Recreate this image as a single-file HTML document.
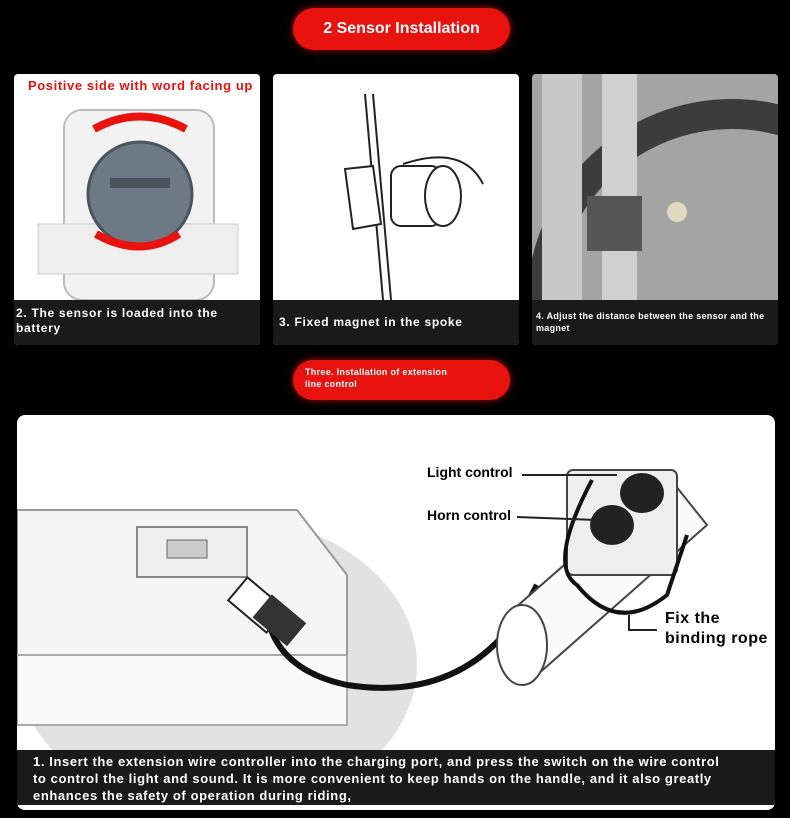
<!DOCTYPE html>
<html><head><meta charset="utf-8"><style>
body{margin:0;width:790px;height:818px;background:#000;position:relative;overflow:hidden;font-family:"Liberation Sans",sans-serif}
.pill{position:absolute;background:#e8120f;border-radius:22px;color:#fff;font-weight:bold;box-shadow:0 0 8px #a00}
.panel{position:absolute;background:#fff;border-radius:4px;overflow:hidden}
.cap{position:absolute;left:0;right:0;background:#1a1a1a;color:#fff;font-weight:bold;letter-spacing:0.7px}
.abs{position:absolute}
</style></head><body>
<div class="pill" style="left:293px;top:8px;width:217px;height:42px;font-size:16px;line-height:42px;text-align:center">2 Sensor Installation</div>

<div class="panel" style="left:14px;top:74px;width:246px;height:271px">
 <div class="abs" style="left:14px;top:4px;color:#e8120f;font-weight:bold;font-size:13px;letter-spacing:0.6px;white-space:nowrap">Positive side with word facing up</div>
 <svg class="abs" style="left:0;top:0" width="246" height="226">
  <rect x="50" y="36" width="150" height="190" rx="18" fill="#f2f2f2" stroke="#bbb" stroke-width="2"/>
  <rect x="24" y="150" width="200" height="50" fill="#eee" stroke="#ccc"/>
  <circle cx="126" cy="120" r="52" fill="#6d7a85" stroke="#49545c" stroke-width="3"/>
  <rect x="96" y="104" width="60" height="10" fill="#4a545c"/>
  <path d="M80 55 Q126 30 172 55" stroke="#e8120f" stroke-width="8" fill="none"/>
  <path d="M82 160 Q126 185 165 160" stroke="#e8120f" stroke-width="8" fill="none"/>
 </svg>
 <div class="cap" style="top:226px;height:45px;font-size:12px;padding:6px 2px;box-sizing:border-box;line-height:15px">2. The sensor is loaded into the battery</div>
</div>

<div class="panel" style="left:273px;top:74px;width:246px;height:271px">
 <svg class="abs" style="left:0;top:0" width="246" height="226">
  <line x1="92" y1="20" x2="110" y2="226" stroke="#222" stroke-width="2"/>
  <line x1="100" y1="20" x2="118" y2="226" stroke="#222" stroke-width="2"/>
  <path d="M72 95 L100 92 L108 150 L80 155 Z" fill="#fff" stroke="#222" stroke-width="2"/>
  <rect x="118" y="92" width="50" height="60" rx="10" fill="#fff" stroke="#222" stroke-width="2"/>
  <ellipse cx="170" cy="122" rx="18" ry="30" fill="#fff" stroke="#222" stroke-width="2"/>
  <path d="M130 90 Q190 70 210 110" stroke="#222" stroke-width="2" fill="none"/>
 </svg>
 <div class="cap" style="top:226px;height:45px;font-size:12px;line-height:45px;padding-left:6px">3. Fixed magnet in the spoke</div>
</div>

<div class="panel" style="left:532px;top:74px;width:246px;height:271px;background:#9a9a9a">
 <svg class="abs" style="left:0;top:0" width="246" height="226">
  <rect width="246" height="226" fill="#a4a4a4"/>
  <circle cx="200" cy="230" r="190" fill="none" stroke="#3c3c3c" stroke-width="30"/>
  <rect x="10" y="0" width="40" height="226" fill="#c8c8c8"/>
  <rect x="70" y="0" width="35" height="226" fill="#d0d0d0"/>
  <rect x="55" y="122" width="55" height="55" fill="#555"/>
  <circle cx="145" cy="138" r="10" fill="#e0d8c0"/>
 </svg>
 <div class="cap" style="top:226px;height:45px;font-size:9px;padding:10px 4px;box-sizing:border-box;line-height:12px;letter-spacing:0.3px">4. Adjust the distance between the sensor and the magnet</div>
</div>

<div class="pill" style="left:293px;top:360px;width:217px;height:40px;font-size:9px;line-height:12px;padding:6px 60px 6px 12px;box-sizing:border-box;letter-spacing:0.3px">Three. Installation of extension line control</div>

<div class="panel" style="left:17px;top:415px;width:758px;height:395px;border-radius:8px">
 <svg class="abs" style="left:0;top:0" width="758" height="340">
  <ellipse cx="200" cy="250" rx="200" ry="150" fill="#e2e2e2"/>
  <path d="M0 95 L280 95 L330 160 L330 240 L0 240 Z" fill="#f5f5f5" stroke="#999" stroke-width="2"/>
  <rect x="0" y="240" width="330" height="70" fill="#fafafa" stroke="#aaa" stroke-width="2"/>
  <rect x="120" y="112" width="110" height="50" fill="#eee" stroke="#888" stroke-width="2"/>
  <rect x="150" y="125" width="40" height="18" fill="#ccc" stroke="#666"/>
  <path d="M520 170 Q460 290 330 270 Q260 255 250 200" stroke="#111" stroke-width="6" fill="none"/>
  <rect x="215" y="175" width="50" height="30" fill="#fff" stroke="#222" stroke-width="2" transform="rotate(40 240 190)"/>
  <rect x="240" y="190" width="45" height="30" fill="#333" transform="rotate(40 262 205)"/>
  <path d="M490 200 L650 60 L690 110 L520 260 Z" fill="#fafafa" stroke="#444" stroke-width="2"/>
  <ellipse cx="505" cy="230" rx="25" ry="40" fill="#fff" stroke="#444" stroke-width="2"/>
  <rect x="550" y="55" width="110" height="105" rx="6" fill="#eee" stroke="#444" stroke-width="2"/>
  <ellipse cx="625" cy="78" rx="22" ry="20" fill="#222"/>
  <ellipse cx="595" cy="110" rx="22" ry="20" fill="#222"/>
  <path d="M575 65 Q530 150 560 170 Q600 220 650 180 L670 120" stroke="#111" stroke-width="4" fill="none"/>
  <line x1="505" y1="60" x2="600" y2="60" stroke="#222" stroke-width="2"/>
  <line x1="500" y1="102" x2="580" y2="105" stroke="#222" stroke-width="2"/>
  <path d="M612 200 L612 215 L640 215" stroke="#222" stroke-width="2" fill="none"/>
 </svg>
 <div class="abs" style="left:410px;top:49px;font-weight:bold;font-size:14px">Light control</div>
 <div class="abs" style="left:410px;top:92px;font-weight:bold;font-size:14px">Horn control</div>
 <div class="abs" style="left:648px;top:194px;font-weight:bold;font-size:16px;line-height:20px;letter-spacing:0.5px">Fix the<br>binding rope</div>
 <div class="cap" style="top:335px;left:0;right:0;height:55px;font-size:13px;line-height:17px;padding:3px 40px 3px 16px;box-sizing:border-box;letter-spacing:0.6px">1. Insert the extension wire controller into the charging port, and press the switch on the wire control to control the light and sound. It is more convenient to keep hands on the handle, and it also greatly enhances the safety of operation during riding,</div>
</div>
</body></html>
